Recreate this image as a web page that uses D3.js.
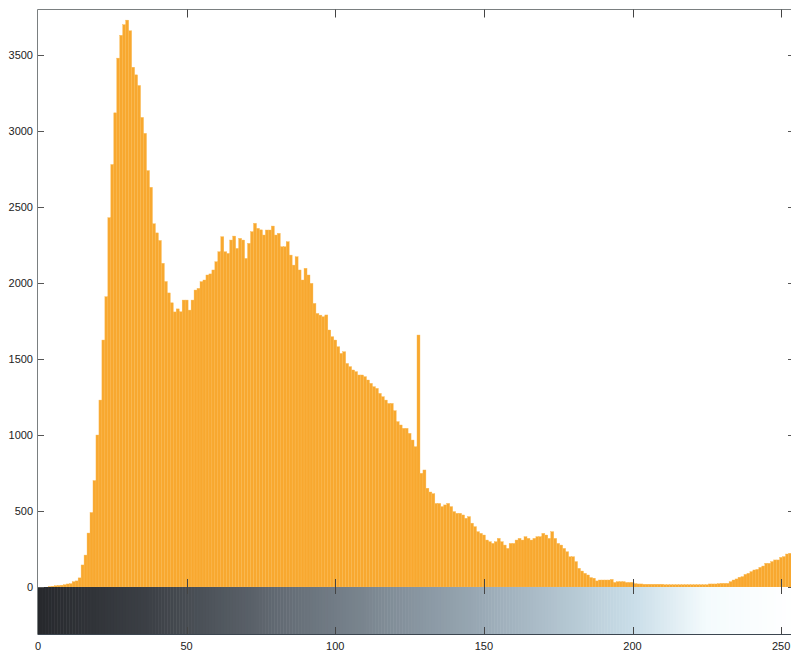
<!DOCTYPE html>
<html>
<head>
<meta charset="utf-8">
<script src="https://cdn.jsdelivr.net/npm/d3@7"></script>
<style>
  body { margin: 0; background: #fff; }
  text { font-family: "Liberation Sans", Arial, sans-serif; font-size: 11px; fill: #222; }
</style>
</head>
<body>
<div id="chart-container"></div>
<script>
// histogram counts, one per gray level 0..255
var counts = [
  0, 0, 0, 0, 2, 5, 8, 10, 12, 15,
  20, 22, 35, 40, 60, 145, 210, 355, 490, 700,
  1000, 1230, 1625, 1910, 2430, 2780, 3120, 3480, 3630, 3700,
  3730, 3660, 3420, 3370, 3300, 3090, 2985, 2740, 2630, 2390,
  2330, 2280, 2130, 2010, 1935, 1870, 1810, 1830, 1811, 1888,
  1888, 1822, 1888, 1954, 1965, 2009, 2020, 2053, 2060, 2086,
  2140, 2206, 2305, 2206, 2195, 2283, 2309, 2228, 2294, 2283,
  2162, 2261, 2338, 2393, 2360, 2350, 2316, 2349, 2349, 2375,
  2316, 2327, 2239, 2239, 2272, 2184, 2118, 2173, 2086, 2020,
  2097, 2053, 1998, 1866, 1800, 1789, 1778, 1790, 1691, 1647,
  1625, 1581, 1537, 1548, 1471, 1450, 1428, 1417, 1395, 1395,
  1384, 1362, 1340, 1318, 1307, 1274, 1252, 1230, 1208, 1208,
  1160, 1088, 1066, 1044, 1044, 1011, 967, 923, 1658, 748,
  770, 650, 625, 614, 550, 550, 529, 540, 550, 529,
  496, 485, 485, 474, 452, 463, 420, 397, 364, 353,
  342, 309, 298, 287, 298, 320, 298, 276, 254, 287,
  287, 309, 320, 309, 331, 320, 309, 320, 331, 331,
  353, 342, 320, 364, 320, 287, 276, 254, 232, 199,
  199, 167, 123, 105, 90, 79, 62, 58, 40, 46,
  46, 46, 46, 50, 30, 35, 35, 35, 30, 30,
  30, 22, 20, 20, 18, 18, 18, 18, 18, 18,
  18, 15, 15, 15, 15, 15, 15, 15, 15, 15,
  15, 15, 15, 15, 15, 15, 20, 20, 20, 22,
  24, 24, 24, 35, 46, 53, 64, 68, 83, 90,
  101, 112, 116, 129, 138, 156, 156, 167, 178, 178,
  195, 200, 217, 222, 225, 230
];
var levels = d3.range(counts.length);

var xTicks = [0, 50, 100, 150, 200, 250];
var yTicks = [0, 500, 1000, 1500, 2000, 2500, 3000, 3500];
var yMax = 3800;

// colour ramp of the (scanned) gray bar under the histogram
var rampStops = [0, 40, 90, 150, 200, 225, 255];
var rampColors = ["#26282c", "#3e4248", "#6a737c", "#9aaab6", "#c9dde8", "#f4fbfd", "#ffffff"];

var svgWidth = 791;
var svgHeight = 655;

var plotTop = 9.5;
var plotLeft = 38;
var plotRight = 796;
var barBottom = 587;
var cbBottom = 634;

var svg = d3.select("#chart-container")
    .append("svg")
    .attr("width", svgWidth)
    .attr("height", svgHeight);

var x = d3.scaleLinear().domain([0, 255]).range([plotLeft, plotRight]);
var y = d3.scaleLinear().domain([0, yMax]).range([barBottom, plotTop]);
var gray = d3.scaleLinear().domain(rampStops).range(rampColors);

var bw = x(1) - x(0);

svg.append("clipPath").attr("id", "clip")
    .append("rect")
    .attr("x", plotLeft).attr("y", plotTop)
    .attr("width", plotRight - plotLeft).attr("height", cbBottom - plotTop);

var g = svg.append("g").attr("clip-path", "url(#clip)");

// histogram bars
g.selectAll(".bar")
    .data(levels)
    .enter().append("rect")
    .attr("class", "bar")
    .attr("x", function(d) { return x(d - 0.5); })
    .attr("width", bw)
    .attr("y", function(d) { return y(counts[d]); })
    .attr("height", function(d) { return barBottom - y(counts[d]); })
    .style("fill", "#f8a82f")
    .style("stroke", "#fbb84f")
    .style("stroke-width", 0.4);

// gray level bar
g.selectAll(".cb")
    .data(levels)
    .enter().append("rect")
    .attr("class", "cb")
    .attr("x", function(d) { return x(d - 0.5); })
    .attr("width", bw + 0.5)
    .attr("y", barBottom)
    .attr("height", cbBottom - barBottom)
    .style("fill", function(d) { return gray(d); });

// frame
var axisColor = "#7a7f80";
svg.append("line")
    .attr("x1", plotLeft - 0.5).attr("x2", plotLeft - 0.5)
    .attr("y1", plotTop).attr("y2", cbBottom)
    .style("stroke", axisColor);
svg.append("line")
    .attr("x1", plotLeft - 0.5).attr("x2", plotRight)
    .attr("y1", plotTop).attr("y2", plotTop)
    .style("stroke", axisColor);
svg.append("line")
    .attr("x1", plotLeft - 0.5).attr("x2", plotRight)
    .attr("y1", cbBottom + 0.5).attr("y2", cbBottom + 0.5)
    .style("stroke", "#3c4650");
svg.append("line")
    .attr("x1", plotRight).attr("x2", plotRight)
    .attr("y1", plotTop).attr("y2", cbBottom)
    .style("stroke", axisColor);

// y ticks, left and right
svg.selectAll(".ytick")
    .data(yTicks)
    .enter().append("line")
    .attr("x1", plotLeft).attr("x2", plotLeft + 6)
    .attr("y1", function(d) { return Math.round(y(d)) + 0.5; })
    .attr("y2", function(d) { return Math.round(y(d)) + 0.5; })
    .style("stroke", "#555");
svg.selectAll(".ytickr")
    .data(yTicks)
    .enter().append("line")
    .attr("x1", plotRight - 8).attr("x2", plotRight)
    .attr("y1", function(d) { return Math.round(y(d)) + 0.5; })
    .attr("y2", function(d) { return Math.round(y(d)) + 0.5; })
    .style("stroke", "#555");
svg.selectAll(".ylabel")
    .data(yTicks)
    .enter().append("text")
    .attr("x", plotLeft - 5)
    .attr("y", function(d) { return y(d); })
    .attr("dy", "0.35em")
    .attr("text-anchor", "end")
    .text(function(d) { return d; });

// x ticks: top of histogram, bottom of histogram, colour bar top and bottom
var xt = xTicks.filter(function(d) { return d > 0; });
[[plotTop, plotTop + 8], [barBottom - 8, barBottom], [barBottom, barBottom + 7], [cbBottom - 7, cbBottom]].forEach(function(seg) {
    svg.selectAll(null)
        .data(xt)
        .enter().append("line")
        .attr("x1", function(d) { return Math.round(x(d)) + 0.5; })
        .attr("x2", function(d) { return Math.round(x(d)) + 0.5; })
        .attr("y1", seg[0]).attr("y2", seg[1])
        .style("stroke", "#444");
});
svg.selectAll(".xlabel")
    .data(xTicks)
    .enter().append("text")
    .attr("x", function(d) { return x(d); })
    .attr("y", 646)
    .attr("dy", "0.35em")
    .attr("text-anchor", "middle")
    .text(function(d) { return d; });
</script>
</body>
</html>
